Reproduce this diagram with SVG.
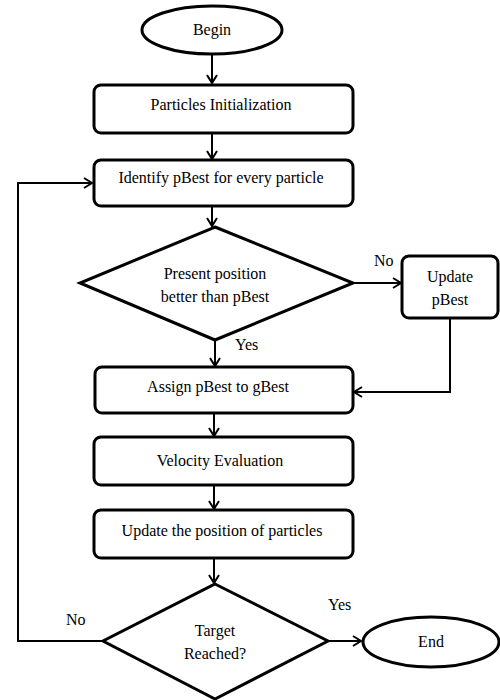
<svg xmlns="http://www.w3.org/2000/svg" width="500" height="700" viewBox="0 0 500 700">
  <style>
    .shape { fill: #ffffff; stroke: #000000; stroke-width: 3; }
    .line { fill: none; stroke: #000000; stroke-width: 2; }
    text { font-family: "Liberation Serif", "Times New Roman", serif; font-size: 16px; fill: #000000; text-anchor: middle; }
    .lbl { text-anchor: start; }
  </style>
  <defs>
    <marker id="arrow" markerWidth="12" markerHeight="12" refX="10" refY="6" orient="auto" markerUnits="userSpaceOnUse">
      <path d="M2,1 L10,6 L2,11" fill="none" stroke="#000000" stroke-width="2"/>
    </marker>
  </defs>
  <rect width="500" height="700" fill="#ffffff"/>

  <g id="connectors">
    <line class="line" x1="212" y1="55" x2="212" y2="83" marker-end="url(#arrow)"/>
    <line class="line" x1="212" y1="134" x2="212" y2="159" marker-end="url(#arrow)"/>
    <line class="line" x1="212" y1="206" x2="212" y2="226" marker-end="url(#arrow)"/>
    <line class="line" x1="353" y1="283" x2="401" y2="283" marker-end="url(#arrow)"/>
    <line class="line" x1="215" y1="340" x2="215" y2="366" marker-end="url(#arrow)"/>
    <polyline class="line" points="450,319 450,392 354,392" marker-end="url(#arrow)"/>
    <line class="line" x1="214" y1="414" x2="214" y2="436" marker-end="url(#arrow)"/>
    <line class="line" x1="214" y1="486" x2="214" y2="509" marker-end="url(#arrow)"/>
    <line class="line" x1="214" y1="559" x2="214" y2="583" marker-end="url(#arrow)"/>
    <polyline class="line" points="103,641 18,641 18,183 92,183" marker-end="url(#arrow)"/>
    <line class="line" x1="328" y1="641" x2="361" y2="641" marker-end="url(#arrow)"/>
    <text class="lbl" x="374" y="266">No</text>
    <text class="lbl" x="235" y="350">Yes</text>
    <text class="lbl" x="66" y="625">No</text>
    <text class="lbl" x="328" y="610">Yes</text>
  </g>

  <g id="begin">
    <ellipse class="shape" cx="212" cy="30" rx="70" ry="24"/>
    <text x="212" y="35">Begin</text>
  </g>

  <g id="init">
    <rect class="shape" x="94" y="85" width="259" height="48" rx="7"/>
    <text x="221" y="110">Particles Initialization</text>
  </g>

  <g id="identify">
    <rect class="shape" x="94" y="160" width="259" height="46" rx="7"/>
    <text x="221" y="183">Identify pBest for every particle</text>
  </g>

  <g id="compare">
    <polygon class="shape" points="215,227 353,283 215,340 80,283"/>
    <text x="215" y="279">Present position</text>
    <text x="215" y="302">better than pBest</text>
  </g>

  <g id="update-pbest">
    <rect class="shape" x="402" y="256" width="96" height="62" rx="7"/>
    <text x="450" y="282">Update</text>
    <text x="450" y="305">pBest</text>
  </g>

  <g id="assign">
    <rect class="shape" x="95" y="367" width="258" height="46" rx="7"/>
    <text x="218" y="392">Assign pBest to gBest</text>
  </g>

  <g id="velocity">
    <rect class="shape" x="94" y="437" width="259" height="48" rx="7"/>
    <text x="220" y="466">Velocity Evaluation</text>
  </g>

  <g id="update-position">
    <rect class="shape" x="94" y="510" width="259" height="48" rx="7"/>
    <text x="222" y="536">Update the position of particles</text>
  </g>

  <g id="target">
    <polygon class="shape" points="215,584 328,641 215,699 103,641"/>
    <text x="215" y="636">Target</text>
    <text x="215" y="659">Reached?</text>
  </g>

  <g id="end">
    <ellipse class="shape" cx="431" cy="642" rx="68" ry="25"/>
    <text x="431" y="647">End</text>
  </g>
</svg>
